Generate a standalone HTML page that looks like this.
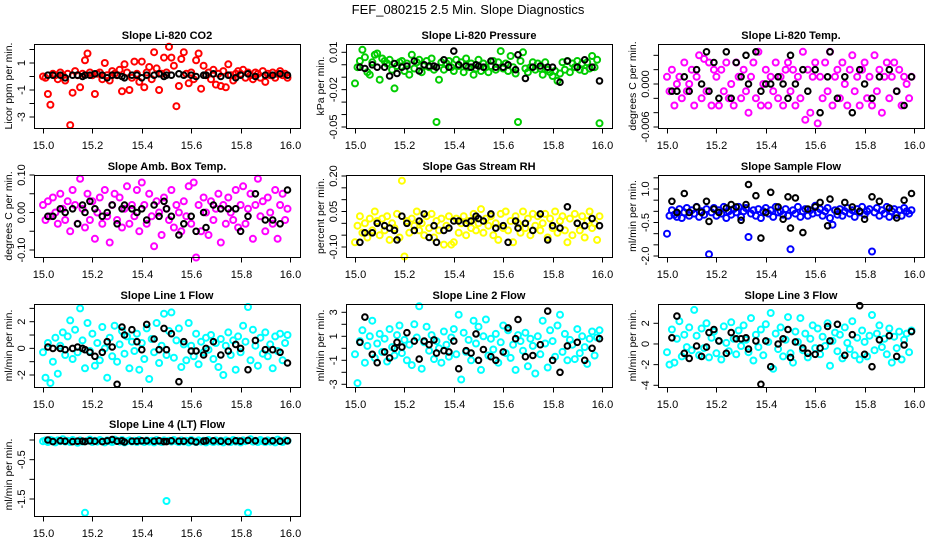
<!DOCTYPE html>
<html><head><meta charset="utf-8"><style>
html,body{margin:0;padding:0;background:#fff;}
svg{display:block;font-family:"Liberation Sans",Arial,sans-serif;}
</style></head><body>
<svg id="chart" width="936" height="540" viewBox="0 0 936 540" xmlns="http://www.w3.org/2000/svg">
<rect width="936" height="540" fill="#fff"/>
<text x="468" y="14" text-anchor="middle" font-size="13">FEF_080215  2.5 Min. Slope Diagnostics</text>
</svg>
<script>
const times = [15.00,15.01,15.02,15.03,15.04,15.05,15.06,15.07,15.08,15.09,15.10,15.11,15.12,15.13,15.14,15.15,15.16,15.17,15.18,15.19,15.20,15.21,15.22,15.23,15.24,15.25,15.26,15.27,15.28,15.29,15.30,15.31,15.32,15.33,15.34,15.35,15.36,15.37,15.38,15.39,15.40,15.41,15.42,15.43,15.44,15.45,15.46,15.47,15.48,15.49,15.50,15.51,15.52,15.53,15.54,15.55,15.56,15.57,15.58,15.59,15.60,15.61,15.62,15.63,15.64,15.65,15.66,15.67,15.68,15.69,15.70,15.71,15.72,15.73,15.74,15.75,15.76,15.77,15.78,15.79,15.80,15.81,15.82,15.83,15.84,15.85,15.86,15.87,15.88,15.89,15.90,15.91,15.92,15.93,15.94,15.95,15.96,15.97,15.98,15.99];
const blackTimes = [15.02,15.04,15.07,15.09,15.12,15.14,15.16,15.17,15.19,15.21,15.24,15.26,15.28,15.30,15.32,15.33,15.36,15.38,15.40,15.42,15.45,15.47,15.49,15.50,15.52,15.55,15.57,15.60,15.62,15.65,15.66,15.69,15.72,15.75,15.78,15.80,15.83,15.86,15.90,15.93,15.96,15.99];
const xTicks = [15.0,15.2,15.4,15.6,15.8,16.0];
const xTickLabels = ["15.0","15.2","15.4","15.6","15.8","16.0"];

const co2 = [0,-0.1,-1.3,-2.1,0.2,0.1,-0.2,0.3,0.1,-0.3,0.2,-3.6,-1.2,0.4,0.1,-0.8,0.2,1.2,1.7,0.3,0.1,-1.3,0.2,0.3,-0.2,1.0,0.1,-0.3,0.4,0.2,0.1,0.5,-1.1,0.9,0.3,-1.0,-0.1,1.1,0.2,-0.4,1.1,-0.8,0.3,0.7,-0.2,1.8,0.6,-1.0,0.2,1.4,0.3,2.2,1.4,0.8,-2.2,-0.7,1.3,1.8,0.2,-0.5,0.3,-0.2,1.2,1.7,-0.9,0.8,0.1,0.3,-0.2,0.5,-0.6,0.2,-0.7,0.4,-0.8,0.9,0.1,-0.3,0.2,0.4,0.2,0.5,-0.1,0.3,0.1,-0.2,0.3,0.2,-0.1,0.4,-0.4,0.2,0.1,0.3,-0.1,0.2,0.4,0.1,0.2,-0.1];
const co2Black = [0.1,0.1,0.1,-0.1,0.1,0.1,0.0,0.1,0.1,0.2,0.1,-0.1,0.1,0.1,0.0,-0.1,0.1,0.1,-0.1,0.1,0.1,0.2,0.0,0.1,0.1,0.2,0.1,0.1,0.0,0.1,0.1,0.2,0.0,0.1,-0.1,0.1,0.2,0.0,0.1,0.1,0.2,0.1];

const pressure = [-0.015,-0.002,0.003,0.012,0.006,-0.006,-0.008,0.002,0.008,0.009,-0.012,0.005,0.003,0.001,0.004,-0.004,-0.019,-0.001,0.002,0.003,-0.005,0.001,-0.008,0.008,-0.003,0.002,0.004,-0.006,-0.001,0.003,-0.002,0.005,-0.004,-0.046,-0.012,0.002,-0.004,0.001,0.003,-0.002,-0.005,0.004,-0.001,0.002,-0.006,0.005,-0.002,0.001,-0.008,-0.003,0.004,-0.005,0.001,-0.002,-0.006,-0.001,0.003,-0.004,0.002,0.011,-0.003,0.001,-0.005,0.007,-0.002,-0.007,-0.046,0.003,0.010,-0.003,-0.006,-0.002,0.002,-0.004,0.001,-0.003,-0.008,0.002,-0.004,-0.006,-0.009,-0.005,-0.013,-0.007,0.002,-0.004,0.003,-0.006,0.001,-0.002,0.003,-0.004,0.001,-0.005,0.002,-0.003,0.007,-0.002,0.004,-0.047];
const pressureBlack = [-0.002,-0.003,0.000,-0.002,-0.002,-0.009,0.001,-0.007,-0.002,-0.001,0.003,-0.005,0.000,-0.001,-0.001,-0.002,0.004,-0.002,0.011,0.000,-0.001,-0.002,0.000,-0.001,-0.002,0.003,-0.002,-0.002,0.000,-0.004,0.008,-0.011,-0.002,-0.001,-0.002,-0.002,-0.014,0.003,-0.002,0.004,-0.002,-0.013];

const liTemp = [0.001,-0.001,0.002,-0.003,0.000,0.001,-0.002,0.003,-0.001,0.000,0.002,-0.003,0.001,0.004,-0.002,0.0035,-0.001,0.003,-0.003,0.002,0.001,-0.003,0.002,-0.001,0.003,-0.002,0.000,-0.003,0.003,0.001,-0.002,0.002,-0.001,-0.004,0.001,0.003,-0.002,0.0045,-0.003,0.000,0.002,-0.003,0.001,-0.001,0.003,-0.002,0.001,-0.003,0.002,0.003,-0.001,0.002,-0.003,0.001,-0.002,0.0045,-0.005,0.002,-0.004,0.001,0.003,-0.0055,0.001,-0.002,0.003,-0.001,0.0045,-0.003,0.001,0.002,-0.002,0.003,0.000,-0.003,0.002,0.004,-0.001,0.001,-0.003,0.002,0.003,-0.002,0.001,-0.003,0.004,-0.001,0.002,-0.004,0.001,0.003,-0.002,0.001,0.003,-0.001,0.002,-0.003,0.001,0.000,-0.002,0.001];
const liTempBlack = [-0.001,-0.001,0.001,-0.001,0.002,0.000,0.0045,-0.001,0.003,-0.002,0.0045,-0.002,0.003,0.001,0.004,0.000,0.0045,-0.001,0.000,0.000,0.001,0.000,-0.002,0.004,0.000,0.002,-0.001,0.002,-0.004,0.001,0.0045,-0.002,0.001,-0.004,0.002,0.000,-0.002,0.001,0.002,-0.001,-0.003,0.001];

const ambTemp = [0.02,-0.02,0.03,-0.01,0.04,0.00,-0.03,0.05,0.01,-0.02,0.03,-0.05,0.06,0.02,-0.03,0.09,0.01,-0.04,0.05,-0.02,0.03,-0.07,0.00,0.04,-0.03,0.06,-0.01,-0.08,0.02,0.05,-0.02,0.04,-0.04,0.01,0.07,-0.03,0.02,-0.01,0.06,-0.05,0.08,0.02,-0.03,0.05,-0.01,-0.09,0.03,0.00,-0.06,0.04,0.01,-0.02,0.06,-0.04,0.02,0.00,-0.05,0.03,-0.01,0.07,-0.03,0.08,-0.12,0.02,-0.05,0.04,0.00,-0.06,0.03,-0.02,0.01,0.05,-0.08,0.02,-0.03,0.04,0.00,-0.02,0.06,-0.04,0.02,0.07,-0.03,0.01,0.05,-0.07,0.02,0.09,-0.01,0.03,-0.05,0.04,0.00,-0.03,0.06,-0.07,0.02,0.05,-0.02,0.01];
const ambTempBlack = [-0.01,-0.01,0.01,0.00,0.01,-0.03,0.02,0.00,0.03,0.01,-0.01,0.00,0.02,-0.03,0.01,0.02,0.01,0.00,0.01,-0.02,0.02,-0.01,0.03,0.01,-0.01,-0.06,-0.03,-0.01,-0.05,0.00,-0.04,0.02,0.01,0.01,0.01,-0.05,-0.01,0.05,-0.02,-0.02,-0.03,0.06];

const gasRH = [-0.08,-0.01,0.03,-0.04,0.00,-0.06,0.02,-0.03,0.05,0.01,-0.05,0.02,-0.03,0.03,-0.07,0.00,-0.02,0.04,-0.06,0.18,-0.14,0.01,-0.04,0.02,-0.01,0.05,-0.03,0.00,-0.05,0.03,-0.02,0.04,-0.06,0.01,-0.03,0.02,-0.09,-0.01,0.03,-0.09,-0.08,0.02,-0.04,0.00,0.03,-0.05,0.01,-0.02,0.04,-0.03,0.00,0.06,-0.04,0.02,-0.01,0.03,-0.05,0.00,-0.07,0.04,-0.02,0.05,-0.03,0.01,-0.08,0.03,0.00,-0.04,0.05,-0.02,0.02,-0.05,0.04,-0.01,0.03,-0.03,0.00,0.04,-0.06,0.02,-0.02,0.05,-0.04,0.01,0.03,-0.03,-0.08,0.02,-0.05,0.04,0.00,-0.03,0.03,-0.06,0.01,0.05,-0.02,0.00,-0.07,0.03];
const gasRHBlack = [-0.08,-0.04,-0.04,0.00,-0.01,-0.02,-0.03,-0.07,0.03,0.00,-0.03,0.01,0.04,-0.06,-0.01,-0.08,-0.03,-0.02,0.01,0.01,0.00,0.01,0.03,0.02,0.01,0.04,-0.02,-0.01,-0.08,0.01,-0.02,0.00,-0.03,0.04,-0.07,-0.01,-0.02,0.07,0.00,-0.01,0.02,-0.01];

const sampleFlow = [-1.00,-0.20,0.05,-0.15,-0.25,0.10,-0.30,-0.05,0.15,-0.20,0.05,-0.10,0.20,-0.25,0.00,-0.15,0.10,-1.92,-0.05,0.15,-0.20,0.05,-0.10,0.20,-0.30,0.00,-0.15,0.10,-0.05,0.20,-0.25,0.00,0.15,-1.15,-0.10,0.05,-0.20,0.10,-0.30,0.00,0.15,-0.10,0.05,-0.25,0.20,-0.05,0.00,-0.15,0.10,-0.20,-1.70,0.05,-0.10,0.20,-0.25,0.00,0.10,-0.20,0.05,-0.10,0.25,-0.05,0.10,-0.20,0.00,0.15,-0.30,-0.60,0.05,-0.15,0.10,-0.20,0.00,0.15,-0.10,0.05,-0.25,0.10,-0.05,0.20,-0.15,0.00,0.10,-1.80,-0.05,0.15,-0.20,0.05,-0.10,0.20,-0.25,0.00,0.10,-0.15,0.05,-0.20,0.15,0.00,-0.10,0.05];
const sampleFlowBlack = [0.45,-0.05,0.80,-0.05,0.20,-0.05,0.45,-0.45,0.10,-0.05,0.15,0.30,0.20,-0.40,0.30,1.20,0.70,-1.20,-0.05,0.85,0.20,-0.35,0.65,-0.75,0.60,-0.95,0.10,0.20,0.40,-0.65,0.55,0.00,0.40,0.20,0.00,-0.35,0.65,0.45,0.15,-0.30,0.50,0.80];

const line1 = [-0.3,-2.2,0.4,-2.6,-1.0,0.8,-1.9,0.2,1.2,-0.5,0.9,2.1,-0.8,1.4,-0.3,3.0,0.6,-1.5,1.9,-0.2,1.1,-1.3,0.4,-0.9,1.6,0.0,-2.2,0.8,-0.6,1.7,-1.0,0.3,1.3,-0.4,0.9,-1.5,0.5,-0.2,1.1,-1.6,0.4,-0.8,1.5,-2.3,0.7,-0.3,1.9,-1.1,0.2,2.6,-0.5,1.3,2.7,-0.7,0.6,1.5,-1.4,0.3,-0.9,1.9,0.2,-0.6,1.1,-1.2,0.5,-0.3,0.8,-0.1,1.0,-0.8,0.4,-1.4,0.7,-2.0,0.2,1.2,-0.5,0.6,-1.6,0.9,-0.3,1.7,0.5,3.1,-0.9,1.4,0.2,-1.3,0.8,-0.4,1.2,-0.6,0.3,-1.5,0.9,-0.2,1.1,-0.9,0.4,1.0];
const line1Black = [0.1,0.0,0.0,-0.1,0.0,0.1,0.0,-0.1,-0.3,-0.6,-0.3,0.5,0.1,-2.7,1.6,1.0,1.4,0.5,-0.1,1.8,0.7,-0.1,1.5,-0.1,1.1,-2.5,0.5,-0.2,-0.2,-0.5,0.0,0.5,-0.5,-0.2,0.3,0.0,-1.6,0.6,-0.1,-0.1,-0.3,-1.1];

const line2 = [-0.5,-2.9,0.6,1.5,-1.2,0.2,1.0,2.3,-0.8,0.4,1.2,-0.3,0.8,-1.1,1.6,0.1,-0.6,1.1,1.9,-0.4,0.7,-1.0,0.3,-1.4,2.0,0.9,3.5,-1.7,0.5,1.8,-0.2,1.1,-0.9,0.6,0.0,-1.2,1.4,0.3,-0.7,0.9,1.6,-0.5,2.8,-2.6,1.3,-0.3,0.7,-1.0,2.3,0.4,1.8,-1.8,1.0,2.4,-0.6,0.8,-0.1,1.2,-1.2,0.5,1.9,-0.4,1.5,-0.8,0.3,-1.8,1.1,0.6,-0.2,1.3,-1.5,0.8,0.2,-2.1,1.0,-0.5,2.3,0.4,-1.6,1.5,0.6,-0.7,1.9,2.8,-0.3,1.2,-1.0,0.7,0.3,-0.9,1.6,-0.4,1.0,0.1,-1.3,0.8,1.4,-0.6,0.9,1.5];
const line2Black = [0.5,2.6,-0.5,-1.2,-0.3,-0.8,0.0,0.5,0.1,1.3,0.6,-0.9,0.6,0.3,0.7,-0.4,-0.2,-0.3,0.6,-1.7,-0.2,-0.4,1.2,-1.0,-0.1,-0.7,-1.0,-0.3,1.7,0.8,2.4,-0.7,-0.6,0.3,3.1,-1.0,-2.0,0.2,0.5,-1.0,0.0,0.8];

const line3 = [-0.8,-2.0,1.4,-1.8,0.5,2.2,-1.2,0.9,-0.3,1.6,-0.6,3.3,0.8,-1.1,1.5,-0.4,2.0,-1.3,0.6,1.2,-0.9,0.3,-1.5,1.7,0.1,-0.7,2.1,0.5,-1.0,1.3,-0.2,1.8,0.4,-0.8,2.5,-1.6,0.9,-0.3,1.4,-1.1,1.9,0.2,3.0,-2.4,1.0,-0.5,1.6,-1.2,0.4,2.6,-0.9,-1.8,1.2,0.2,2.5,-0.6,1.0,-1.3,0.5,1.8,-0.4,1.5,-1.0,0.7,-0.2,2.0,-2.1,0.3,1.1,-0.7,0.9,-1.4,1.6,0.1,-0.5,2.2,-1.1,0.6,-1.5,1.3,0.2,-1.2,0.8,2.8,-0.6,1.0,1.8,-0.3,0.5,-1.0,1.5,-1.8,0.7,-0.4,1.2,-1.5,0.4,1.0,-0.8,1.3];
const line3Black = [0.6,2.7,-0.9,-1.4,-0.2,-1.2,-0.3,1.1,1.4,0.3,-0.9,1.1,0.5,0.5,0.6,-0.5,0.3,-3.9,0.3,-2.2,0.0,0.5,1.4,-1.3,0.2,-0.4,-0.9,-1.0,-0.4,1.7,0.3,1.9,-1.1,0.9,3.7,-1.0,-2.2,0.4,0.8,-1.2,-0.1,1.2];

const line4 = [-0.03,-0.01,-0.05,0.00,-0.02,-0.06,-0.01,-0.03,0.02,-0.04,-0.02,-0.05,0.00,-0.03,-0.07,-0.01,-0.04,-1.85,-0.02,0.01,-0.05,-0.02,-0.04,0.00,-0.03,-0.06,-0.01,-0.03,-0.05,0.01,-0.02,-0.04,0.00,-0.06,-0.03,-0.01,-0.04,-0.02,-0.05,0.00,-0.03,-0.05,-0.01,-0.04,-0.02,-0.06,0.00,-0.03,-0.05,-0.01,-1.55,-0.02,-0.04,0.00,-0.03,-0.05,-0.01,-0.04,-0.02,-0.06,0.00,-0.03,-0.05,-0.01,-0.04,-0.02,-0.06,0.00,-0.03,-0.05,-0.01,-0.04,-0.02,-0.06,-0.01,-0.03,-0.05,0.00,-0.04,-0.02,-0.06,-0.01,-0.03,-1.85,0.02,-0.04,-0.02,-0.05,0.00,-0.03,-0.05,-0.01,-0.04,-0.02,-0.06,0.01,-0.03,-0.05,-0.01,-0.02];
const line4Black = [0.00,-0.04,-0.02,-0.03,-0.04,-0.03,-0.03,-0.04,-0.02,-0.03,-0.04,-0.02,0.01,-0.03,-0.02,-0.05,-0.03,-0.03,-0.02,-0.02,-0.03,-0.02,-0.04,-0.04,-0.02,-0.03,-0.03,-0.02,-0.05,-0.03,-0.02,-0.02,-0.03,-0.04,-0.02,-0.03,-0.01,-0.02,-0.03,-0.02,-0.03,-0.02];

const co2Ticks=[2,1,0,-1,-2,-3], co2Labels=["","1","","-1","","-3"];
const presTicks=[0.01,0,-0.01,-0.02,-0.03,-0.04,-0.05], presLabels=["0.01","","","-0.02","","","-0.05"];
const tempTicks=[0.004,0.002,0,-0.002,-0.004,-0.006], tempLabels=["","","0.000","","","-0.006"];
const ambTicks=[0.1,0.05,0,-0.05,-0.1], ambLabels=["0.10","","0.00","","-0.10"];
const rhTicks=[0.2,0.15,0.1,0.05,0,-0.05,-0.1], rhLabels=["0.20","","","0.05","","","-0.10"];
const sfTicks=[1.5,1,0.5,0,-0.5,-1,-1.5,-2], sfLabels=["","1.0","","","-0.5","","","-2.0"];
const l1Ticks=[3,2,1,0,-1,-2], l1Labels=["","2","","0","","-2"];
const l2Ticks=[3,2,1,0,-1,-2,-3], l2Labels=["3","","1","","-1","","-3"];
const l3Ticks=[2,0,-2,-4], l3Labels=["2","0","-2","-4"];
const l4Ticks=[0,-0.5,-1,-1.5], l4Labels=["","-0.5","","-1.5"];

const NS="http://www.w3.org/2000/svg";
const svg=document.getElementById('chart');
function mk(tag,attrs,parent){const e=document.createElementNS(NS,tag);for(const k in attrs)e.setAttribute(k,attrs[k]);(parent||svg).appendChild(e);return e;}

const panels=[
 {name:'co2',title:'Slope Li-820 CO2',ylab:'Licor ppm per min.',L:34,T:44,B:128,v1:1,p1:63,v2:-3,p2:117,vals:co2,blk:co2Black,col:'#ff0000',ticks:co2Ticks,labs:co2Labels},
 {name:'pressure',title:'Slope Li-820 Pressure',ylab:'kPa per min.',L:346,T:44,B:128,v1:0.01,p1:52.3,v2:-0.05,p2:127,vals:pressure,blk:pressureBlack,col:'#00cd00',ticks:presTicks,labs:presLabels},
 {name:'li-temp',title:'Slope Li-820 Temp.',ylab:'degrees C per min.',L:658,T:44,B:128,v1:0,p1:84,v2:-0.006,p2:127,vals:liTemp,blk:liTempBlack,col:'#ff00ff',ticks:tempTicks,labs:tempLabels},
 {name:'amb-temp',title:'Slope Amb. Box Temp.',ylab:'degrees C per min.',L:34,T:175,B:257,v1:0.1,p1:175,v2:-0.1,p2:250,vals:ambTemp,blk:ambTempBlack,col:'#ff00ff',ticks:ambTicks,labs:ambLabels},
 {name:'gas-rh',title:'Slope Gas Stream RH',ylab:'percent per min.',L:346,T:175,B:257,v1:0.2,p1:176,v2:-0.1,p2:247,vals:gasRH,blk:gasRHBlack,col:'#ffff00',ticks:rhTicks,labs:rhLabels},
 {name:'sample-flow',title:'Slope Sample Flow',ylab:'ml/min per min.',L:658,T:175,B:257,v1:1,p1:189,v2:-2,p2:256,vals:sampleFlow,blk:sampleFlowBlack,col:'#0000ff',ticks:sfTicks,labs:sfLabels},
 {name:'line1-flow',title:'Slope Line 1 Flow',ylab:'ml/min per min.',L:34,T:304,B:387,v1:2,p1:321.7,v2:-2,p2:375,vals:line1,blk:line1Black,col:'#00ffff',ticks:l1Ticks,labs:l1Labels},
 {name:'line2-flow',title:'Slope Line 2 Flow',ylab:'ml/min per min.',L:346,T:304,B:387,v1:3,p1:312.3,v2:-3,p2:384.3,vals:line2,blk:line2Black,col:'#00ffff',ticks:l2Ticks,labs:l2Labels},
 {name:'line3-flow',title:'Slope Line 3 Flow',ylab:'ml/min per min.',L:658,T:304,B:387,v1:2,p1:323.3,v2:-4,p2:385.3,vals:line3,blk:line3Black,col:'#00ffff',ticks:l3Ticks,labs:l3Labels},
 {name:'line4-flow',title:'Slope Line 4 (LT) Flow',ylab:'ml/min per min.',L:34,T:433,B:516,v1:0,p1:440,v2:-1.5,p2:499,vals:line4,blk:line4Black,col:'#00ffff',ticks:l4Ticks,labs:l4Labels}
];

panels.forEach(p=>{
  const W=266;
  const xs=v=>p.L+9+(v-15)*(W-19);
  const ys=v=>p.p1+(v-p.v1)*(p.p2-p.p1)/(p.v2-p.v1);
  const g=mk('g',{});
  
  
  const t=mk('text',{x:p.L+W/2,y:p.T-5,'text-anchor':'middle','font-size':'11','font-weight':'bold'},g);
  
  
  t.textContent=p.title;
  const yl=mk('text',{x:0,y:0,'text-anchor':'middle','font-size':'10.5',transform:`translate(${p.L-22},${(p.T+p.B)/2}) rotate(-90)`},g);
  
  
  yl.textContent=p.ylab;
  const pg=mk('g',{fill:'none',stroke:p.col,'stroke-width':'2'},g);
  
  
  p.vals.forEach((v,i)=>{
    const c=mk('circle',{cx:xs(times[i]).toFixed(1),cy:ys(v).toFixed(1),r:'3'},pg);
    
    
  });
  const bg=mk('g',{fill:'none',stroke:'#000','stroke-width':'2'},g);
  
  
  p.blk.forEach((v,i)=>{
    const c=mk('circle',{cx:xs(blackTimes[i]).toFixed(1),cy:ys(v).toFixed(1),r:'2.8'},bg);
    
    
  });
  const box=mk('rect',{x:p.L+0.5,y:p.T+0.5,width:W,height:p.B-p.T,fill:'none',stroke:'#000','stroke-width':'1'},g);
  
  
  p.ticks.forEach((v,i)=>{
    const y=ys(v);
    const tk=mk('line',{x1:p.L+0.5,x2:p.L-4.5,y1:y,y2:y,stroke:'#000'},g);
    
    
    if(p.labs[i]){
      const tl=mk('text',{x:0,y:0,'text-anchor':'middle','font-size':'11',transform:`translate(${p.L-9},${y}) rotate(-90)`},g);
      
      
      tl.textContent=p.labs[i];
    }
  });
  xTicks.forEach((v,i)=>{
    const x=Math.round(xs(v))+0.5;
    const tk=mk('line',{x1:x,x2:x,y1:p.B+0.5,y2:p.B+5.5,stroke:'#000'},g);
    
    
    const tl=mk('text',{x:x,y:p.B+21,'text-anchor':'middle','font-size':'11'},g);
    
    
    tl.textContent=xTickLabels[i];
  });
});
</script>
</body></html>
